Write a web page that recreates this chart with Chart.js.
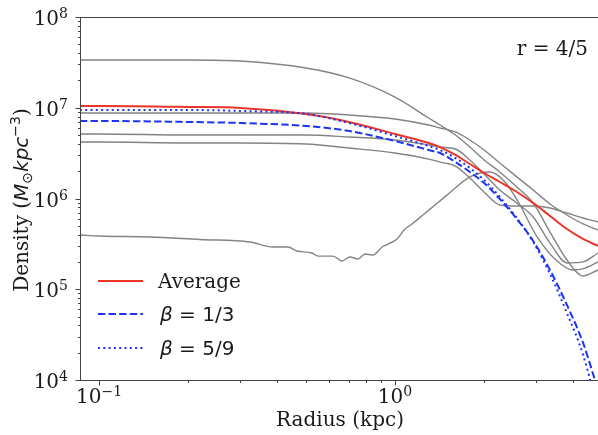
<!DOCTYPE html>
<html><head><meta charset="utf-8">
<script src="https://cdn.jsdelivr.net/npm/chart.js@4"></script>
<style>html,body{margin:0;padding:0;overflow:hidden;background:#fff}#wrap{width:600px;height:435px}</style>
</head><body><div id="wrap"><canvas id="c" width="600" height="435"></canvas></div>
<script>
// ---------- data ----------
const radius = [0.0862, 0.1, 0.2, 0.3, 0.5, 0.7, 1.0, 1.3, 1.42, 1.6, 1.79, 2.0, 2.26, 2.58, 2.93, 3.34, 3.81, 4.32, 4.85];
const averageDensity = [1.045e7, 1.045e7, 1.02e7, 9.94e6, 8.53e6, 6.97e6, 5.14e6, 4.09e6, 3.69e6, 3.02e6, 2.40e6, 1.91e6, 1.52e6, 1.18e6, 8.92e5, 6.42e5, 4.61e5, 3.58e5, 3.00e5];
const beta13Density  = [7.14e6, 7.14e6, 6.97e6, 6.79e6, 6.30e6, 5.54e6, 4.30e6, 3.42e6, 3.17e6, 2.52e6, 1.96e6, 1.48e6, 9.87e5, 5.94e5, 3.40e5, 1.63e5, 6.71e4, 2.56e4, 7.76e3];
const beta59Density  = [9.45e6, 9.45e6, 9.45e6, 9.21e6, 8.53e6, 6.79e6, 4.88e6, 3.79e6, 3.42e6, 2.79e6, 2.17e6, 1.60e6, 1.04e6, 6.10e5, 3.32e5, 1.47e5, 5.47e4, 1.89e4, 4.67e3];
const halo1Density   = [3.36e7, 3.36e7, 3.36e7, 3.27e7, 2.74e7, 2.13e7, 1.31e7, 7.71e6, 6.45e6, 5.01e6, 3.69e6, 2.66e6, 1.96e6, 1.34e6, 8.92e5, 4.27e5, 2.10e5, 1.40e5, 1.63e5];
const halo2Density   = [8.75e6, 8.75e6, 8.75e6, 8.75e6, 8.75e6, 8.32e6, 7.52e6, 6.45e6, 5.98e6, 5.41e6, 4.41e6, 3.42e6, 2.46e6, 1.73e6, 1.24e6, 8.70e5, 6.58e5, 5.24e5, 4.50e5];
const halo3Density   = [5.14e6, 5.14e6, 5.01e6, 5.01e6, 5.01e6, 4.76e6, 4.41e6, 3.89e6, 3.69e6, 3.51e6, 2.66e6, 1.86e6, 1.24e6, 8.92e5, 6.25e5, 3.23e5, 1.95e5, 2.00e5, 2.51e5];
const halo4Density   = [4.19e6, 4.19e6, 4.09e6, 4.09e6, 3.99e6, 3.60e6, 3.17e6, 2.72e6, 2.52e6, 2.28e6, 1.68e6, 1.18e6, 8.48e5, 8.27e5, 8.27e5, 7.86e5, 6.92e5, 6.10e5, 5.51e5];
const halo5Radius  = [0.0862, 0.1, 0.1487, 0.2194, 0.3236, 0.387, 0.435, 0.4666, 0.5243, 0.5494, 0.6173, 0.6621, 0.7047, 0.7499, 0.7918, 0.8426, 0.904, 0.9471, 1.016, 1.073, 1.141, 1.243, 1.365, 1.498, 1.792, 2.094, 2.353, 2.644, 2.995, 3.499, 3.994, 4.385, 4.851];
const halo5Density = [3.96e5, 3.86e5, 3.77e5, 3.53e5, 3.32e5, 2.92e5, 2.92e5, 2.64e5, 2.51e5, 2.32e5, 2.32e5, 2.05e5, 2.27e5, 2.15e5, 2.45e5, 2.38e5, 2.92e5, 3.15e5, 3.58e5, 4.50e5, 5.24e5, 6.58e5, 8.48e5, 1.09e6, 1.73e6, 1.96e6, 1.52e6, 8.48e5, 3.96e5, 2.10e5, 1.63e5, 1.71e5, 2.00e5];
const legendLabels = ['Average', 'β = 1/3', 'β = 5/9'];
const xTickValues = [0.1, 1];
const xTickExponents = ['−1', '0'];
const yTickValues = [1e4, 1e5, 1e6, 1e7, 1e8];
const yTickExponents = ['4', '5', '6', '7', '8'];
const X_MIN = 0.08626, X_MAX = 4.927, Y_MIN = 1e4, Y_MAX = 1e8;

// ---------- styles ----------
const SERIF = '"DejaVu Serif", serif';
const SANS = '"DejaVu Sans", sans-serif';
const TXT = '#1a1a1a';
const AXIS = '#444';
const RED = 'rgb(236,52,40)';
const BLUE = 'rgb(28,52,245)';
const GRAY = 'rgb(132,132,132)';

const pts = (xs, ys) => xs.map((x, i) => ({x, y: ys[i]}));
const grayDs = (xs, ys) => ({
  data: pts(xs, ys), borderColor: GRAY, borderWidth: 1.4, pointRadius: 0,
  cubicInterpolationMode: 'monotone', order: 5, clip: 1
});

const datasets = [
  {data: pts(radius, beta59Density), borderColor: BLUE, borderWidth: 2, borderDash: [2, 3.3], pointRadius: 0, cubicInterpolationMode: 'monotone', order: 0, clip: 1},
  {data: pts(radius, beta13Density), borderColor: BLUE, borderWidth: 2, borderDash: [7.4, 3.2], pointRadius: 0, cubicInterpolationMode: 'monotone', order: 1, clip: 1},
  {data: pts(radius, averageDensity), borderColor: RED, borderWidth: 2, pointRadius: 0, cubicInterpolationMode: 'monotone', order: 2, clip: 1},
  grayDs(radius, halo1Density), grayDs(radius, halo2Density), grayDs(radius, halo3Density),
  grayDs(radius, halo4Density), grayDs(halo5Radius, halo5Density)
];

function drawPow(ctx, base, exp, x, y, align) {
  ctx.font = '20px ' + SERIF; const wb = ctx.measureText(base).width;
  ctx.font = '14px ' + SERIF; const we = ctx.measureText(exp).width;
  const total = wb + we;
  const sx = align === 'right' ? x - total : align === 'center' ? x - total / 2 : x;
  ctx.textAlign = 'left'; ctx.textBaseline = 'alphabetic';
  ctx.font = '20px ' + SERIF; ctx.fillText(base, sx, y);
  ctx.font = '14px ' + SERIF; ctx.fillText(exp, sx + wb, y - 7);
}
function isMajor(v) { const l = Math.log10(v); return Math.abs(l - Math.round(l)) < 1e-6; }
function isIntMantissa(v) { const m = v / Math.pow(10, Math.floor(Math.log10(v) + 1e-9)); return Math.abs(m - Math.round(m)) < 1e-6; }

const decor = {
  id: 'decor',
  afterDraw(chart) {
    const ctx = chart.ctx, a = chart.chartArea, xs = chart.scales.x, ys = chart.scales.y;
    ctx.save();
    ctx.strokeStyle = AXIS; ctx.lineWidth = 1;
    ctx.beginPath();
    ctx.moveTo(a.left + 0.5, a.top); ctx.lineTo(a.left + 0.5, a.bottom + 0.5);
    ctx.moveTo(a.left, a.bottom + 0.5); ctx.lineTo(a.right, a.bottom + 0.5);
    ctx.moveTo(a.left, a.top + 0.5); ctx.lineTo(a.right, a.top + 0.5);
    ctx.stroke();
    ctx.beginPath();
    xs.ticks.forEach(t => {
      if (!isIntMantissa(t.value)) return;
      const p = Math.round(xs.getPixelForValue(t.value)) + 0.5;
      const len = isMajor(t.value) ? 5 : 2.5;
      ctx.moveTo(p, a.bottom + 0.5); ctx.lineTo(p, a.bottom + 0.5 + len);
    });
    ys.ticks.forEach(t => {
      if (!isIntMantissa(t.value)) return;
      const p = Math.round(ys.getPixelForValue(t.value)) + 0.5;
      const len = isMajor(t.value) ? 5 : 2.5;
      ctx.moveTo(a.left + 0.5, p); ctx.lineTo(a.left + 0.5 - len, p);
    });
    ctx.stroke();
    ctx.fillStyle = TXT;
    xTickValues.forEach((v, i) => drawPow(ctx, '10', xTickExponents[i], xs.getPixelForValue(v), 403, 'center'));
    yTickValues.forEach((v, i) => drawPow(ctx, '10', yTickExponents[i], 68, ys.getPixelForValue(v) + 8, 'right'));
    ctx.font = '20px ' + SERIF; ctx.textAlign = 'center'; ctx.textBaseline = 'alphabetic';
    ctx.fillText('Radius (kpc)', 340, 426);
    const parts = [
      ['20px ' + SERIF, 'Density (', 0],
      ['italic 20px ' + SANS, 'M', 0],
      ['14px ' + SANS, '⊙', 4],
      ['italic 20px ' + SANS, 'kpc', 0],
      ['14px ' + SANS, '−3', -8],
      ['20px ' + SERIF, ')', 0]
    ];
    let tot = 0;
    parts.forEach(p => { ctx.font = p[0]; p.push(ctx.measureText(p[1]).width); tot += p[3]; });
    ctx.save();
    ctx.translate(28, 200); ctx.rotate(-Math.PI / 2);
    ctx.textAlign = 'left';
    let cx = -tot / 2;
    parts.forEach(p => { ctx.font = p[0]; ctx.fillText(p[1], cx, p[2]); cx += p[3]; });
    ctx.restore();
    ctx.font = '20px ' + SERIF; ctx.textAlign = 'right';
    ctx.fillText('r = 4/5', 588, 55);
    const rows = [281, 314, 348];
    const styles = [[RED, []], [BLUE, [7.4, 3.2]], [BLUE, [2, 3.3]]];
    rows.forEach((ry, i) => {
      ctx.strokeStyle = styles[i][0]; ctx.lineWidth = 2; ctx.setLineDash(styles[i][1]);
      ctx.beginPath(); ctx.moveTo(98, ry); ctx.lineTo(143, ry); ctx.stroke();
    });
    ctx.setLineDash([]);
    ctx.textAlign = 'left'; ctx.fillStyle = TXT;
    ctx.font = '20px ' + SERIF; ctx.fillText(legendLabels[0], 158, 288);
    [1, 2].forEach(i => {
      const lab = legendLabels[i];
      const y = rows[i] + 7;
      ctx.font = 'italic 20px ' + SANS; ctx.fillText(lab.charAt(0), 160, y);
      const wb = ctx.measureText(lab.charAt(0)).width;
      ctx.font = '20px ' + SANS; ctx.fillText(lab.slice(1), 160 + wb, y);
    });
    ctx.restore();
  }
};

new Chart(document.getElementById('c'), {
  type: 'line',
  data: {datasets},
  options: {
    responsive: false, devicePixelRatio: 1, animation: false,
    layout: {padding: {top: 17, left: 0, right: 0, bottom: 0}},
    plugins: {legend: {display: false}, tooltip: {enabled: false}},
    scales: {
      x: {type: 'logarithmic', min: X_MIN, max: X_MAX, ticks: {display: false}, grid: {display: false}, border: {display: false},
          afterFit(s) { s.height = 55; }},
      y: {type: 'logarithmic', min: Y_MIN, max: Y_MAX, ticks: {display: false}, grid: {display: false}, border: {display: false},
          afterFit(s) { s.width = 80; }}
    }
  },
  plugins: [decor]
});
</script></body></html>
